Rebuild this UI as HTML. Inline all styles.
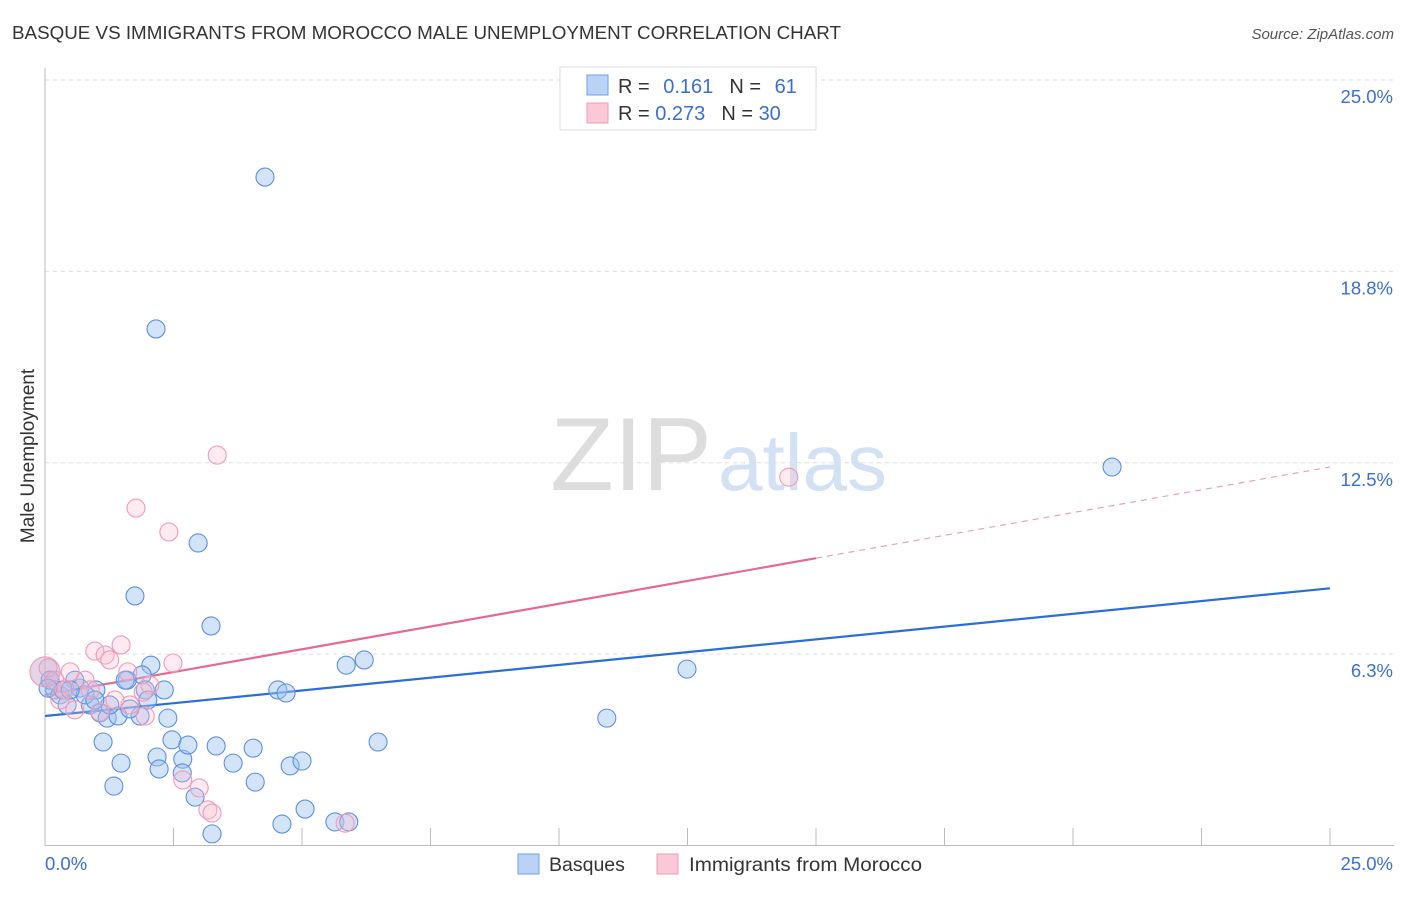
<!DOCTYPE html>
<html><head><meta charset="utf-8"><style>
body{margin:0;background:#fff;font-family:"Liberation Sans",sans-serif;}
svg text{font-family:"Liberation Sans",sans-serif;}
</style></head><body>
<svg id="chart" width="1406" height="892" viewBox="0 0 1406 892" xmlns="http://www.w3.org/2000/svg">
<text x="12" y="39" font-size="18.6" fill="#333" textLength="829" lengthAdjust="spacingAndGlyphs">BASQUE VS IMMIGRANTS FROM MOROCCO MALE UNEMPLOYMENT CORRELATION CHART</text>
<text x="1394" y="39" font-size="15" fill="#555" font-style="italic" text-anchor="end">Source: ZipAtlas.com</text>
<g>
<text x="712" y="490" font-size="104" fill="#ddd" text-anchor="end" font-family="Liberation Serif,serif">ZIP</text>
<text x="718" y="490" font-size="80" fill="#d3e1f4">atlas</text>
</g>
<g id="grid"></g>
<g id="axes"></g>
<g id="lines"></g>
<g id="points"></g>
<text transform="translate(34,456) rotate(-90)" font-size="19" fill="#333" text-anchor="middle">Male Unemployment</text>
<g>
<rect x="560" y="67" width="256" height="63" fill="#fff" stroke="#ddd"/>
<rect x="587" y="75" width="21" height="20" fill="#b8d3f5" stroke="#6f9fe3"/>
<rect x="587" y="103" width="21" height="20" fill="#fbc8d7" stroke="#f09ab5"/>
<text x="618" y="93" font-size="20" fill="#333">R = <tspan fill="#3a6fd0" dx="8">0.161</tspan><tspan dx="16" fill="#333">N = </tspan><tspan fill="#3a6fd0" dx="8">61</tspan></text>
<text x="618" y="120" font-size="20" fill="#333">R = <tspan fill="#3a6fd0">0.273</tspan><tspan dx="16" fill="#333">N = </tspan><tspan fill="#3a6fd0">30</tspan></text>
</g>
<g>
<rect x="518" y="854" width="21" height="20" fill="#b8d3f5" stroke="#6f9fe3"/>
<text x="549" y="871" font-size="19.5" fill="#333">Basques</text>
<rect x="657" y="854" width="21" height="20" fill="#fbc8d7" stroke="#f09ab5"/>
<text x="689" y="871" font-size="19.5" fill="#333" textLength="233" lengthAdjust="spacingAndGlyphs">Immigrants from Morocco</text>
</g>
</svg>
<script>
const blueX=[4.28,2.16,2.98,1.75,3.23,2.06,5.86,6.21,12.49,20.76,10.93,4.53,4.69,2.32,1.89,1.60,0.99,0.68,0.19,0.29,0.43,0.88,1.07,1.21,1.42,1.85,2.39,1.65,1.13,1.48,1.34,2.18,2.22,2.47,2.68,2.67,2.78,2.92,3.33,3.66,4.05,4.09,4.77,5.00,5.06,4.61,5.64,5.91,6.48,3.25,0.10,0.58,0.78,0.35,0.06,1.26,1.95,1.56,0.49,0.97,2.00];
const blueY=[21.83,16.87,9.88,8.15,7.17,5.89,5.89,6.06,5.76,12.36,4.16,5.08,4.98,5.08,5.57,5.40,5.08,5.14,5.08,4.92,4.59,4.59,4.33,4.16,4.23,4.23,4.16,4.46,3.38,2.69,1.94,2.89,2.50,3.45,2.82,2.37,3.28,1.58,3.25,2.69,3.18,2.07,2.60,2.76,1.19,0.70,0.77,0.77,3.38,0.38,5.40,5.40,4.92,5.08,5.14,4.59,5.08,5.40,5.08,4.75,4.75];
const pinkX=[3.35,1.77,2.41,14.47,1.48,0.97,1.17,1.26,2.49,0.06,0.49,0.78,0.19,1.61,2.04,1.91,0.58,1.07,1.65,1.95,2.68,3.00,3.17,3.25,5.84,0.39,0.88,0.29,1.36,0.0];
const pinkY=[12.75,11.02,10.24,12.03,6.55,6.35,6.22,6.06,5.96,5.80,5.67,5.40,5.40,5.67,5.24,5.01,4.43,4.36,4.59,4.23,2.14,1.88,1.16,1.06,0.73,5.08,5.08,4.75,4.75,5.67];
const yTicks=[25.0,18.75,12.5,6.25];
const yTickLabels=["25.0%","18.8%","12.5%","6.3%"];
const xTicks=[0,2.5,5,7.5,10,12.5,15,17.5,20,22.5,25];
const blueTrend=[4.23,8.40];
const pinkTrend=[4.92,12.36];
const pinkSolidEnd=15;

const X0=45,X1=1330,Y0=845.5,Y1=80;
const sx=v=>X0+(v/25)*(X1-X0);
const sy=v=>Y0-(v/25)*(Y0-Y1);
const NS="http://www.w3.org/2000/svg";
function mk(parent,tag,attrs){const e=document.createElementNS(NS,tag);for(const k in attrs)e.setAttribute(k,attrs[k]);document.getElementById(parent).appendChild(e);return e;}

yTicks.forEach((t,i)=>{
 const g=mk('grid','line',{x1:X0,x2:1394,y1:sy(t),y2:sy(t),stroke:'#ddd','stroke-dasharray':'4,4'});
 
 
 const tx=mk('grid','text',{x:1393,y:sy(t)+23,'font-size':18.5,fill:'#3a6fd0','text-anchor':'end'});
 tx.textContent=yTickLabels[i];
 
 
});
const ax=mk('axes','line',{x1:X0,x2:X0,y1:68,y2:Y0,stroke:'#bbb'});


const bx=mk('axes','line',{x1:X0,x2:1394,y1:Y0,y2:Y0,stroke:'#bbb'});


xTicks.forEach(t=>{
 const l=mk('axes','line',{x1:sx(t),x2:sx(t),y1:828,y2:Y0,stroke:'#bbb'});
 
 
});
const xl0=mk('axes','text',{x:45,y:870,'font-size':18.5,fill:'#3a6fd0'});xl0.textContent='0.0%';


const xl1=mk('axes','text',{x:1393,y:870,'font-size':18.5,fill:'#3a6fd0','text-anchor':'end'});xl1.textContent='25.0%';



function pt(x,y,r,fill,stroke,name){
 const c=mk('points','circle',{cx:sx(x),cy:sy(y),r:r,fill:fill,stroke:stroke,'stroke-width':1.1});
 
 
}
blueX.forEach((x,i)=>pt(x,blueY[i],9,'rgba(160,196,240,0.45)','#5b8fe0','basque-point'));
pinkX.forEach((x,i)=>pt(x,pinkY[i],i===pinkX.length-1?15:9,i===pinkX.length-1?'rgba(200,170,210,0.5)':'rgba(248,190,208,0.3)','#f29ab5','morocco-point'));

const bl=mk('lines','line',{x1:sx(0),y1:sy(blueTrend[0]),x2:sx(25),y2:sy(blueTrend[1]),stroke:'#2a6fd6','stroke-width':2.2});


const pm=pinkTrend[0]+(pinkTrend[1]-pinkTrend[0])*pinkSolidEnd/25;
const pl=mk('lines','line',{x1:sx(0),y1:sy(pinkTrend[0]),x2:sx(pinkSolidEnd),y2:sy(pm),stroke:'#e8688f','stroke-width':2.2});


const pd=mk('lines','line',{x1:sx(pinkSolidEnd),y1:sy(pm),x2:sx(25),y2:sy(pinkTrend[1]),stroke:'#eca0b8','stroke-width':1.2,'stroke-dasharray':'6,5'});


</script>
</body></html>
